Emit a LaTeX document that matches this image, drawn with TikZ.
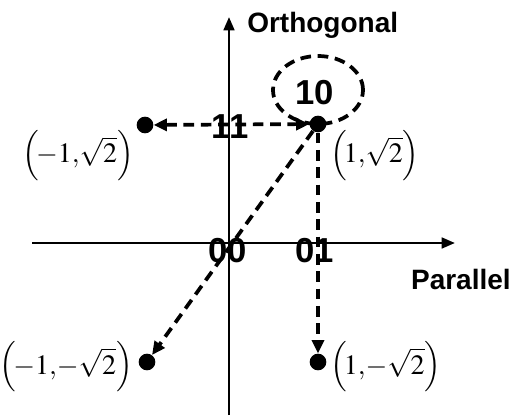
\documentclass[tikz,border=0pt]{standalone}
\usepackage{mathptmx}
\usepackage{fontspec}
\setsansfont{Liberation Sans}
\usetikzlibrary{arrows.meta,shapes.geometric}
\begin{document}
\begin{tikzpicture}[x=0.75pt,y=-0.75pt,
  axis/.style={line width=2pt,-{Triangle[length=10pt,width=8pt]}},
  dline/.style={line width=2.8pt,dash pattern=on 8pt off 5pt},
  tip/.style={-{Triangle[length=10pt,width=9pt]}},
  tips/.style={{Triangle[length=10pt,width=9pt]}-{Triangle[length=10pt,width=9pt]}},
  dot/.style={circle,fill=black,inner sep=0pt,minimum size=12.5pt},
  bits/.style={font=\sffamily\bfseries\fontsize{26}{26}\selectfont,inner sep=0pt},
  axlab/.style={font=\sffamily\bfseries\fontsize{21}{22}\selectfont,inner sep=0pt},
  coord/.style={font=\fontsize{21}{22}\selectfont,inner sep=0pt}]
\useasboundingbox (0,0) rectangle (511,417);
% axes
\coordinate (yb) at (229,415);
\coordinate (yt) at (229,17);
\coordinate (xl) at (32,243);
\coordinate (xr) at (455,243);
\draw[axis] (yb) -- (yt);
\draw[axis] (xl) -- (xr);
% dots
\node[dot] (p10) at (318,124) {};
\node[dot] (p11) at (145,125) {};
\node[dot] (p00) at (147,362) {};
\node[dot] (p01) at (318,362) {};
% bit labels
\node[bits] (l10) at (315,93) {10};
\node[bits] (l11) at (230,127) {11};
\node[bits] (l00) at (228,251) {00};
\node[bits] (l01) at (315,251) {01};
% ellipse
\node[draw,dline,ellipse,minimum width=67.5pt,minimum height=51pt,inner sep=0pt] (ell) at (318,90) {};
% dashed arrows
\draw[dline,tips] (p11) -- (p10);
\draw[dline,tip] (p10) -- (p00);
\draw[dline,tip] (p10) -- (p01);
% axis labels
\node[axlab,anchor=west] (ort) at (247,25) {Orthogonal};
\node[axlab,anchor=east] (par) at (511,279) {Parallel};
% coordinates
\node[coord,anchor=east] (c11) at (134,156) {$\Bigl(\!-1{,}\sqrt{2}\Bigr)$};
\node[coord,anchor=west] (c10) at (330,156) {$\Bigl(\!1{,}\sqrt{2}\Bigr)$};
\node[coord,anchor=east] (c00) at (133,367) {$\Bigl(\!-1{,}{-}\sqrt{2}\Bigr)$};
\node[coord,anchor=west] (c01) at (330,367) {$\Bigl(\!1{,}{-}\sqrt{2}\Bigr)$};
\end{tikzpicture}
\end{document}
